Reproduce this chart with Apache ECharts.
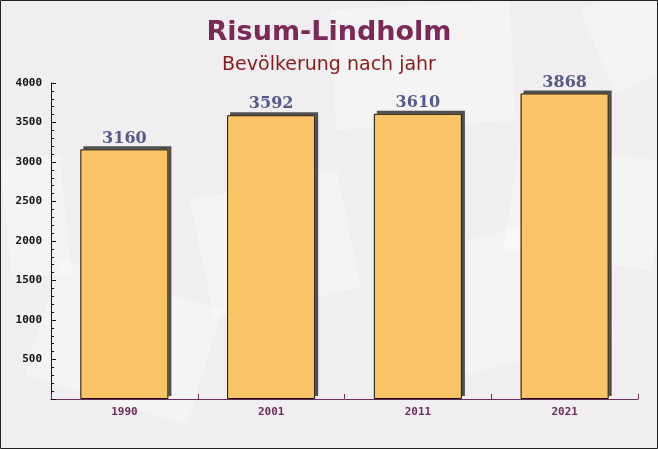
<!DOCTYPE html>
<html>
<head>
<meta charset="utf-8">
<script src="https://cdn.jsdelivr.net/npm/echarts@6/dist/echarts.min.js"></script>
<style>html,body{margin:0;padding:0;background:#f1eff1;}#c{width:658px;height:449px;}</style>
</head>
<body>
<div id="c"></div>
<script>
const categories = ['1990', '2001', '2011', '2021'];
const population = [3160, 3592, 3610, 3868];
const yTicks = [0, 500, 1000, 1500, 2000, 2500, 3000, 3500, 4000];

function env(x, y, w, h, rot) {
  return {type: 'rect', x: x, y: y, rotation: rot, originX: 0, originY: 0,
    shape: {width: w, height: h}, style: {fill: 'rgba(255,255,255,0.35)'}, z: -10, silent: true};
}

const chart = echarts.init(document.getElementById('c'));
chart.setOption({
  backgroundColor: '#f0eef0',
  animation: false,
  title: [
    {text: 'Risum-Lindholm', left: 'center', top: 14,
     textStyle: {fontFamily: 'DejaVu Sans', fontWeight: 'bold', fontSize: 27, color: '#7b2a58'}},
    {text: 'Bevölkerung nach jahr', left: 'center', top: 51,
     textStyle: {fontFamily: 'DejaVu Sans', fontWeight: 'normal', fontSize: 19, color: '#8b1a1a'}}
  ],
  graphic: [
    env(330, 10, 180, 120, 0.05),
    env(520, 140, 150, 110, -0.15),
    env(60, 260, 170, 120, -0.3),
    env(390, 260, 200, 130, 0.25),
    env(580, 10, 120, 90, 0.4),
    env(0, 160, 60, 120, 0.1),
    env(190, 200, 150, 120, 0.2),
    {type: 'rect', shape: {x: 0.5, y: 0.5, width: 657, height: 448},
     style: {fill: 'none', stroke: '#222', lineWidth: 1}, z: 100}
  ],
  grid: {left: 51, right: 20, top: 83, bottom: 50},
  xAxis: {
    type: 'category', data: categories,
    axisLine: {lineStyle: {color: '#6b2d5b', width: 1}},
    axisTick: {show: true, inside: true, length: 5, lineStyle: {color: '#6b2d5b'}},
    axisLabel: {fontFamily: 'DejaVu Sans Mono', fontWeight: 'bold', fontSize: 11, color: '#6b2d5b', margin: 8}
  },
  yAxis: {
    type: 'value', min: yTicks[0], max: yTicks[yTicks.length - 1], interval: 500,
    axisLine: {show: true, lineStyle: {color: '#111', width: 1}},
    axisTick: {show: true, inside: true, length: 5, lineStyle: {color: '#111'}},
    minorTick: {show: true, splitNumber: 5, length: 3, lineStyle: {color: '#111'}},
    splitLine: {show: false},
    axisLabel: {showMinLabel: false, formatter: function (v) { return String(v); },
      fontFamily: 'DejaVu Sans Mono', fontWeight: 'bold', fontSize: 11, color: '#111', margin: 9}
  },
  series: [{
    type: 'bar', data: population, barWidth: '60%',
    itemStyle: {color: '#fbc467', borderWidth: 0,
      shadowColor: 'rgba(80,80,80,1)', shadowOffsetX: 3, shadowOffsetY: -3, shadowBlur: 0},
    label: {show: true, position: 'top', distance: 3,
      fontFamily: 'DejaVu Serif', fontWeight: 'bold', fontSize: 16, color: '#555a8a'}
  }, {
    type: 'bar', data: population, barWidth: '60%', barGap: '-100%',
    itemStyle: {color: 'rgba(0,0,0,0)', borderColor: '#111', borderWidth: 1},
    silent: true
  }]
});
</script>
</body>
</html>
